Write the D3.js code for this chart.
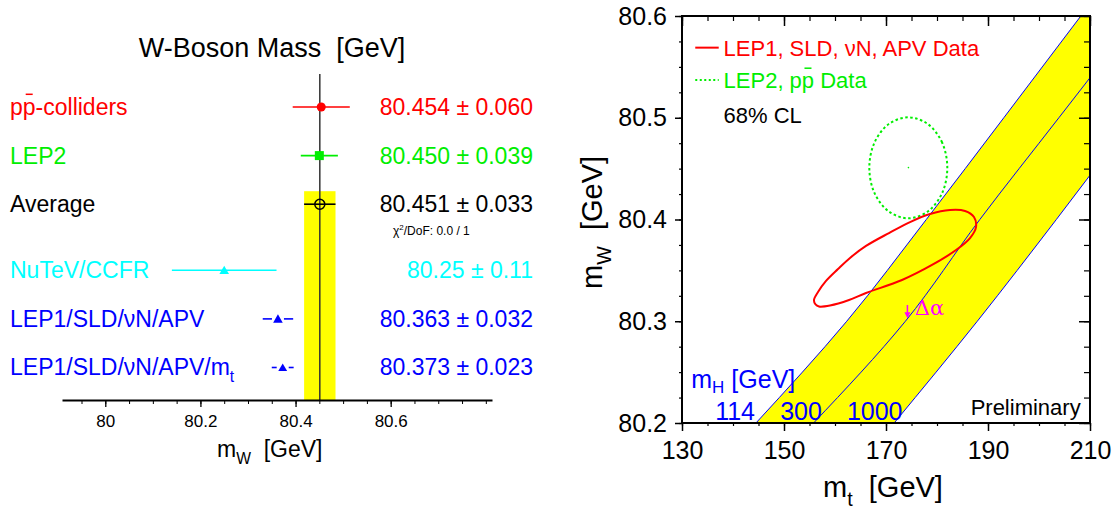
<!DOCTYPE html>
<html>
<head>
<meta charset="utf-8">
<script src="https://cdn.jsdelivr.net/npm/d3@7"></script>
<style>
  body { margin: 0; background: #fff; }
  svg { display: block; }
  text { font-family: "Liberation Sans", Arial, Helvetica, sans-serif; white-space: pre; }
</style>
</head>
<body>
<div id="chart"></div>
<script>
// ---- left panel: W mass measurements ----
const measurements = ["p~{p}-colliders", "LEP2", "Average", "NuTeV/CCFR", "LEP1/SLD/νN/APV", "LEP1/SLD/νN/APV/m_{t}"];
const mwValues = [80.454, 80.450, 80.451, 80.25, 80.363, 80.373];
const mwErrors = [0.060, 0.039, 0.033, 0.11, 0.032, 0.023];
const valueLabels = ["80.454", "80.450", "80.451", "80.25", "80.363", "80.373"];
const errorLabels = ["0.060", "0.039", "0.033", "0.11", "0.032", "0.023"];
const mwTicks = [80, 80.2, 80.4, 80.6];
const chi2Label = "0.0 / 1";
const averageIndex = 2;

// ---- right panel: mW vs mt ----
const mtTicks = [130, 150, 170, 190, 210];
const mwTicksR = [80.2, 80.3, 80.4, 80.5, 80.6];
const bandMw = [80.2, 80.3, 80.4, 80.5, 80.6];
const mh114Mt = [144.5, 162.3, 177.9, 193.1, 208.2];
const mh300Mt = [155.8, 173.8, 188.4, 203.9, 219.4];
const mh1000Mt = [171.6, 187.9, 203.4, 218.5, 233.5];
const mhLabels = ["114", "300", "1000"];

// LEP1, SLD, nuN, APV contour (mt, mW)
const lep1Contour = [
  [155.88, 80.3209], [156.67, 80.3287], [158.24, 80.3396], [160.59, 80.3513],
  [162.94, 80.3622], [166.08, 80.3740], [170.59, 80.3867], [174.71, 80.3975],
  [178.63, 80.4054], [182.55, 80.4093], [185.49, 80.4084], [187.25, 80.4025],
  [187.65, 80.3926], [186.47, 80.3818], [183.73, 80.3700], [179.02, 80.3553],
  [173.14, 80.3405], [166.08, 80.3278], [162.75, 80.3209], [159.02, 80.3155],
  [156.86, 80.3145], [156.18, 80.3165]
];
// LEP2, ppbar contour (mt, mW)
const lep2Contour = [
  [182.02, 80.4508], [181.00, 80.4757], [178.20, 80.4938], [174.37, 80.5004],
  [170.55, 80.4938], [167.75, 80.4757], [166.73, 80.4508], [167.75, 80.4259],
  [170.55, 80.4079], [174.37, 80.4012], [178.20, 80.4079], [181.00, 80.4259]
];
const lep2Center = [174.4, 80.451];
const legendLabels = ["LEP1, SLD, νN, APV Data", "LEP2, p~{p} Data"];

const rowColors = ["#ff0000", "#00ee00", "#000000", "#00ffff", "#0000ff", "#0000ff"];

const svg = d3.select("#chart").append("svg").attr("width", 1119).attr("height", 510);

// text with _{sub} and ~{bar} markup
function rich(t, str, fs, subShift = 0.3) {
  const parts = str.split(/(_\{[^}]*\}|~\{[^}]*\})/).filter(s => s.length);
  let shift = 0, idx = 0;
  const bars = [];
  parts.forEach(p => {
    if (p.startsWith("_{")) {
      const s = p.slice(2, -1);
      t.append("tspan").attr("dy", fs * subShift).attr("font-size", fs * 0.68).text(s);
      shift = fs * subShift;
      idx += s.length;
    } else {
      const isBar = p.startsWith("~{");
      const s = isBar ? p.slice(2, -1) : p;
      const ts = t.append("tspan").text(s);
      if (shift) { ts.attr("dy", -shift); shift = 0; }
      if (isBar) bars.push(idx);
      idx += s.length;
    }
  });
  const n = t.node();
  bars.forEach(i => {
    const a = n.getStartPositionOfChar(i), b = n.getEndPositionOfChar(i);
    const m = (a.x + b.x) / 2;
    d3.select(n.parentNode).append("line")
      .attr("x1", m - 3.5).attr("x2", m + 3.5)
      .attr("y1", a.y - fs * 0.9).attr("y2", a.y - fs * 0.9)
      .attr("stroke", t.attr("fill")).attr("stroke-width", 1.5);
  });
  return t;
}

// ================= LEFT PANEL =================
const left = svg.append("g");
const xL = d3.scaleLinear().domain([79.909, 80.813]).range([62, 492]);
const rowStep = 48.6, rowGap = 0.36;
const rowY = i => 107 + rowStep * (i + (i >= 3 ? rowGap : 0));
const axisYL = 400;
const fsL = 23;

left.append("text").attr("x", 272).attr("y", 57).attr("text-anchor", "middle")
  .attr("font-size", 27).attr("fill", "#000").text("W-Boson Mass  [GeV]");

// average band
const avg = mwValues[averageIndex], avgErr = mwErrors[averageIndex];
left.append("rect")
  .attr("x", xL(avg - avgErr)).attr("width", xL(avg + avgErr) - xL(avg - avgErr))
  .attr("y", rowY(averageIndex) - 13).attr("height", axisYL - rowY(averageIndex) + 13)
  .attr("fill", "#ffff00");
left.append("line").attr("x1", xL(avg)).attr("x2", xL(avg))
  .attr("y1", rowY(0) - 33).attr("y2", axisYL)
  .attr("stroke", "#333").attr("stroke-width", 1.5);

// error bars (small gap round the triangle on the two last rows)
const barGap = [0, 0, 0, 0, 6, 6];
mwValues.forEach((d, i) => {
  const segs = barGap[i]
    ? [[xL(d - mwErrors[i]), xL(d) - barGap[i]], [xL(d) + barGap[i], xL(d + mwErrors[i])]]
    : [[xL(d - mwErrors[i]), xL(d + mwErrors[i])]];
  segs.forEach(s => left.append("line")
    .attr("x1", s[0]).attr("x2", s[1]).attr("y1", rowY(i)).attr("y2", rowY(i))
    .attr("stroke", rowColors[i]).attr("stroke-width", 1.6));
});

// markers
const markerType = [d3.symbolCircle, d3.symbolSquare, null, d3.symbolTriangle, d3.symbolTriangle, d3.symbolTriangle];
const markerSize = [64, 81, 0, 40, 40, 34];
mwValues.forEach((d, i) => {
  if (i === averageIndex) {
    left.append("circle").attr("cx", xL(d)).attr("cy", rowY(i)).attr("r", 5)
      .attr("fill", "none").attr("stroke", "#000").attr("stroke-width", 1.5);
  } else {
    left.append("path").attr("d", d3.symbol(markerType[i], markerSize[i])())
      .attr("transform", `translate(${xL(d)},${rowY(i) + (markerType[i] === d3.symbolTriangle ? 1 : 0)})`)
      .attr("fill", rowColors[i]);
  }
});

// labels
measurements.forEach((m, i) => {
  const t = left.append("text").attr("x", 10).attr("y", rowY(i) + 8)
    .attr("font-size", fsL).attr("fill", rowColors[i]);
  rich(t, m, fsL);
  left.append("text").attr("x", 533).attr("y", rowY(i) + 8)
    .attr("text-anchor", "end").attr("font-size", fsL).attr("fill", rowColors[i])
    .text(`${valueLabels[i]} ± ${errorLabels[i]}`);
});

const chi = left.append("text").attr("x", 393).attr("y", rowY(averageIndex) + 31)
  .attr("font-size", 12).attr("fill", "#000");
chi.append("tspan").text("χ");
chi.append("tspan").attr("dy", -5).attr("font-size", 8).text("2");
chi.append("tspan").attr("dy", 5).text(`/DoF: ${chi2Label}`);

// axis
const axL = left.append("g").attr("transform", `translate(0,${axisYL})`);
axL.call(d3.axisBottom(xL).tickValues(mwTicks).tickSize(7).tickPadding(7.5).tickSizeOuter(0).tickFormat(d3.format("")));
axL.select(".domain").attr("stroke-width", 2);
axL.selectAll(".tick line").attr("stroke-width", 1.3);
axL.selectAll(".tick text").attr("font-size", 17).attr("font-family", null);
const axLminor = left.append("g").attr("transform", `translate(0,${axisYL})`);
axLminor.call(d3.axisBottom(xL).tickValues(d3.range(79.95, 80.81, 0.05)).tickSize(4).tickFormat(""));
axLminor.select(".domain").remove();
axLminor.selectAll(".tick line").attr("stroke-width", 1);

const tL = left.append("text").attr("x", 217).attr("y", 457).attr("font-size", fsL).attr("fill", "#000");
rich(tL, "m_{W}  [GeV]", fsL);

// ================= RIGHT PANEL =================
const right = svg.append("g");
const xR = d3.scaleLinear().domain([130, 210]).range([682, 1090]);
const yR = d3.scaleLinear().domain([80.2, 80.6]).range([423, 16]);

right.append("clipPath").attr("id", "plotclip").append("rect")
  .attr("x", xR(130)).attr("y", yR(80.6)).attr("width", xR(210) - xR(130)).attr("height", yR(80.2) - yR(80.6));
const plot = right.append("g").attr("clip-path", "url(#plotclip)");

const bandData = bandMw.map((mw, i) => ({ mw, lo: mh114Mt[i], mid: mh300Mt[i], hi: mh1000Mt[i] }));
plot.append("path").datum(bandData)
  .attr("d", d3.area().y(d => yR(d.mw)).x0(d => xR(d.lo)).x1(d => xR(d.hi)).curve(d3.curveMonotoneY))
  .attr("fill", "#ffff00");
["lo", "mid", "hi"].forEach(k => {
  plot.append("path").datum(bandData)
    .attr("d", d3.line().y(d => yR(d.mw)).x(d => xR(d[k])).curve(d3.curveMonotoneY))
    .attr("fill", "none").attr("stroke", "#0000ff").attr("stroke-width", 1);
});

const contourLine = d3.line().x(d => xR(d[0])).y(d => yR(d[1])).curve(d3.curveCatmullRomClosed);
plot.append("path").datum(lep2Contour).attr("d", contourLine)
  .attr("fill", "none").attr("stroke", "#00ee00").attr("stroke-width", 2).attr("stroke-dasharray", "2.5,2.5");
plot.append("circle").attr("cx", xR(lep2Center[0])).attr("cy", yR(lep2Center[1])).attr("r", 0.8).attr("fill", "#00ee00");
plot.append("path").datum(lep1Contour).attr("d", contourLine)
  .attr("fill", "none").attr("stroke", "#ff0000").attr("stroke-width", 2);

// delta alpha arrow
const arrowX = xR(174.2), arrowTop = yR(80.316), arrowBot = yR(80.303);
plot.append("line").attr("x1", arrowX).attr("x2", arrowX).attr("y1", arrowTop).attr("y2", arrowBot - 2)
  .attr("stroke", "#ff00ff").attr("stroke-width", 1.5);
plot.append("path").attr("d", `M${arrowX - 3},${arrowBot - 6}L${arrowX + 3},${arrowBot - 6}L${arrowX},${arrowBot}Z`)
  .attr("fill", "#ff00ff");
plot.append("text").attr("x", xR(175.65)).attr("y", yR(80.3063)).attr("font-size", 21)
  .attr("fill", "#ff00ff").style("font-family", '"DejaVu Serif", "Liberation Serif", serif').text("Δα");

// mH labels
const mhT = plot.append("text").attr("x", xR(131.82)).attr("y", yR(80.2348)).attr("font-size", 25).attr("fill", "#0000ff");
rich(mhT, "m_{H} [GeV]", 25, 0.22);
const mhLabelMt = [136.5, 149.26, 162.33];
mhLabels.forEach((l, i) => {
  plot.append("text").attr("x", xR(mhLabelMt[i])).attr("y", yR(80.2031)).attr("font-size", 25)
    .attr("fill", "#0000ff").text(l);
});
plot.append("text").attr("x", xR(208.17)).attr("y", yR(80.2074)).attr("text-anchor", "end")
  .attr("font-size", 22).attr("fill", "#000").text("Preliminary");

// legend
const legY = [80.5689, 80.5371];
right.append("line").attr("x1", xR(132.6)).attr("x2", xR(137.2)).attr("y1", yR(legY[0])).attr("y2", yR(legY[0]))
  .attr("stroke", "#ff0000").attr("stroke-width", 2);
right.append("line").attr("x1", xR(132.6)).attr("x2", xR(137.2)).attr("y1", yR(legY[1])).attr("y2", yR(legY[1]))
  .attr("stroke", "#00ee00").attr("stroke-width", 2).attr("stroke-dasharray", "2,2.5");
const legColors = ["#ff0000", "#00ee00"];
legendLabels.forEach((l, i) => {
  const t = right.append("text").attr("x", xR(138.15)).attr("y", yR(legY[i]) + 8)
    .attr("font-size", 22).attr("fill", legColors[i]);
  rich(t, l, 22);
});
right.append("text").attr("x", xR(138.15)).attr("y", yR(80.4946)).attr("font-size", 22)
  .attr("fill", "#000").text("68% CL");

// axes
function styleAxis(g, w) {
  g.select(".domain").remove();
  g.selectAll(".tick line").attr("stroke", "#000").attr("stroke-width", w);
  g.selectAll(".tick text").attr("font-size", 25).attr("font-family", null).attr("fill", "#000");
}
const fmtMw = d3.format(".1f");
const gl = right.append("g").attr("transform", `translate(${xR(130)},0)`)
  .call(d3.axisLeft(yR).tickValues(mwTicksR).tickSize(7).tickPadding(8).tickFormat(fmtMw));
styleAxis(gl, 1.5);
const glm = right.append("g").attr("transform", `translate(${xR(130)},0)`)
  .call(d3.axisLeft(yR).tickValues(d3.range(80.2, 80.601, 0.025)).tickSize(3).tickFormat(""));
styleAxis(glm, 1.2);
const gr = right.append("g").attr("transform", `translate(${xR(210)},0)`)
  .call(d3.axisRight(yR).tickValues(mwTicksR).tickSize(-11).tickFormat(""));
styleAxis(gr, 1.5);
const grm = right.append("g").attr("transform", `translate(${xR(210)},0)`)
  .call(d3.axisRight(yR).tickValues(d3.range(80.2, 80.601, 0.025)).tickSize(-6).tickFormat(""));
styleAxis(grm, 1.2);
const gb = right.append("g").attr("transform", `translate(0,${yR(80.2)})`)
  .call(d3.axisBottom(xR).tickValues(mtTicks).tickSize(8).tickPadding(10).tickFormat(d3.format("d")));
styleAxis(gb, 1.5);
const gbm = right.append("g").attr("transform", `translate(0,${yR(80.2)})`)
  .call(d3.axisBottom(xR).tickValues(d3.range(130, 211, 5)).tickSize(3).tickFormat(""));
styleAxis(gbm, 1.2);
const gt = right.append("g").attr("transform", `translate(0,${yR(80.6)})`)
  .call(d3.axisTop(xR).tickValues(mtTicks).tickSize(-10).tickFormat(""));
styleAxis(gt, 1.5);
const gtm = right.append("g").attr("transform", `translate(0,${yR(80.6)})`)
  .call(d3.axisTop(xR).tickValues(d3.range(130, 211, 5)).tickSize(-5).tickFormat(""));
styleAxis(gtm, 1.2);

right.append("rect").attr("x", xR(130)).attr("y", yR(80.6))
  .attr("width", xR(210) - xR(130)).attr("height", yR(80.2) - yR(80.6))
  .attr("fill", "none").attr("stroke", "#000").attr("stroke-width", 2);

const tx = right.append("text").attr("x", 823).attr("y", 497).attr("font-size", 29).attr("fill", "#000");
rich(tx, "m_{t}  [GeV]", 29);
const ty = right.append("text").attr("transform", "translate(602,289) rotate(-90)")
  .attr("font-size", 29).attr("fill", "#000");
rich(ty, "m_{W}  [GeV]", 29);
</script>
</body>
</html>
